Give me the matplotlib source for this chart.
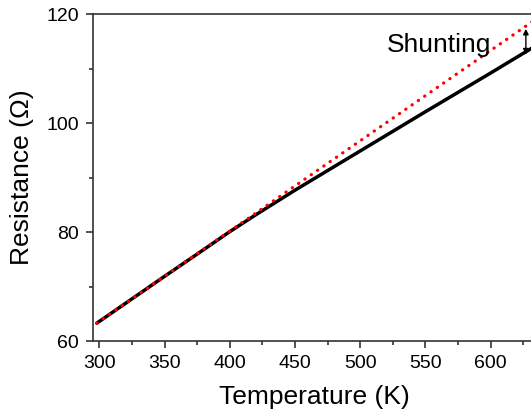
import matplotlib.pyplot as plt
from matplotlib.ticker import MultipleLocator

plt.rcParams["font.family"] = ["Liberation Sans", "DejaVu Sans"]

# measured resistance (black) and linear extrapolation (red dotted)
temp_meas = [298, 350, 380, 400, 420, 450, 500, 550, 600, 636]
res_meas = [63.3, 71.9, 76.8, 80.1, 83.2, 87.7, 94.9, 102.1, 109.2, 114.4]
temp_fit = [298, 636]
res_fit = [63.3, 119.3]

arrow_t = 627
arrow_top = 117.3
arrow_bottom = 112.6

fig = plt.figure(figsize=(5.31, 4.16), dpi=100)
ax = fig.add_axes([0.175, 0.180, 0.835, 0.786])

ax.plot(temp_meas, res_meas, color="black", linewidth=2.5, solid_capstyle="round", zorder=2)
ax.plot(temp_fit, res_fit, color="#ff0000", linewidth=2.3, linestyle=(0, (0.1, 2.3)),
        dash_capstyle="round", zorder=3)

ax.annotate("", xy=(arrow_t, arrow_top), xytext=(arrow_t, arrow_bottom),
            arrowprops=dict(arrowstyle="<|-|>", color="black", lw=1.0,
                            mutation_scale=8, shrinkA=0, shrinkB=0))
ax.text(0.664, 0.906, "Shunting", transform=ax.transAxes, fontsize=19, va="center", ha="left")

ax.set_xlim(295, 635)
ax.set_ylim(60, 120)
ax.xaxis.set_major_locator(MultipleLocator(50))
ax.xaxis.set_minor_locator(MultipleLocator(25))
ax.yaxis.set_major_locator(MultipleLocator(20))
ax.yaxis.set_minor_locator(MultipleLocator(10))

for side in ["left", "bottom", "top", "right"]:
    ax.spines[side].set_linewidth(1.2)
    ax.spines[side].set_color("#333333")
ax.tick_params(which="both", direction="out", top=False, right=False, color="#333333", width=1.2)
ax.tick_params(which="major", length=5, labelsize=14, pad=5)
ax.tick_params(which="minor", length=3)

ax.set_xlabel("Temperature (K)", fontsize=19, labelpad=9)
ax.set_ylabel("Resistance (\u03a9)", fontsize=19, labelpad=9)

fig.savefig("out.png", dpi=100)
